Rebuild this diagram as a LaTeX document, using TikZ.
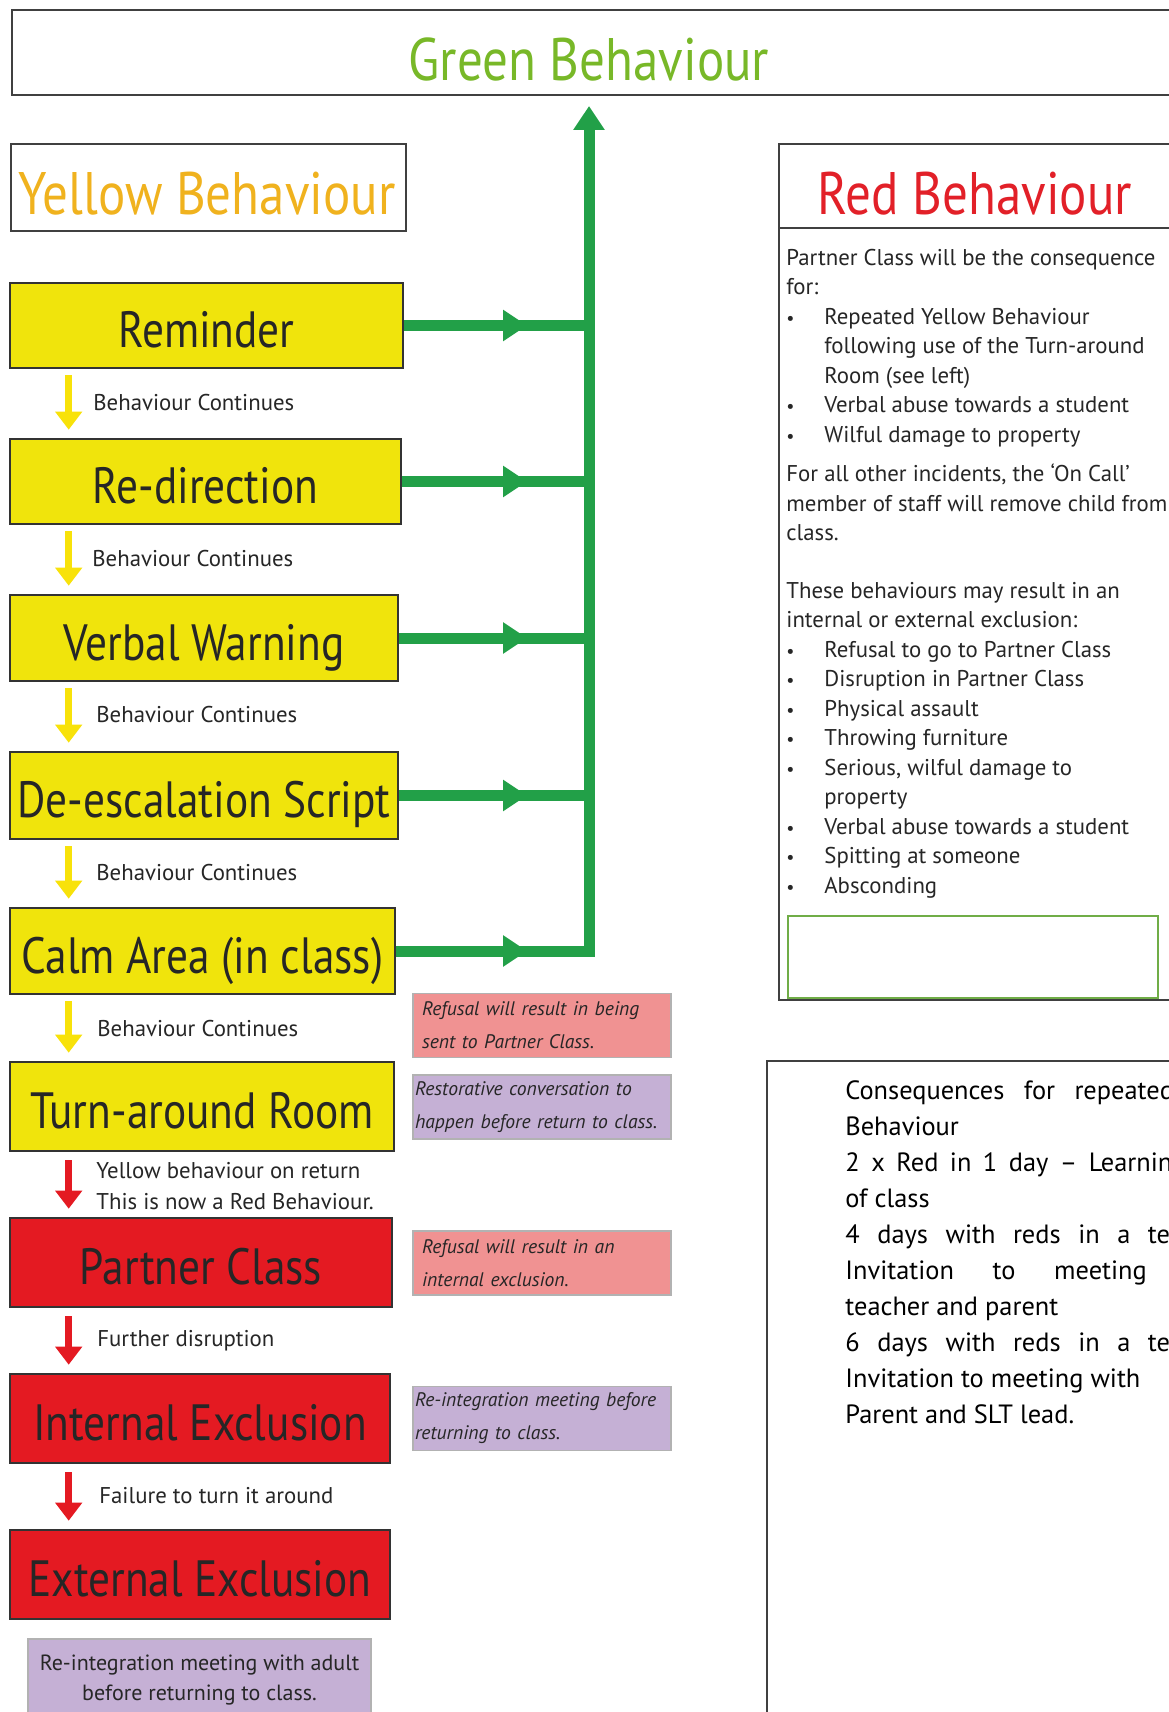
\documentclass[tikz,border=0pt]{standalone}
\usepackage{fontspec}
\setmainfont{PT Sans}
\newfontfamily\headfont[FakeStretch=0.85]{PT Sans}
\usetikzlibrary{arrows.meta,decorations.markings}

\definecolor{boxyellow}{RGB}{240,228,12}
\definecolor{boxred}{RGB}{228,26,34}
\definecolor{linegreen}{RGB}{34,160,72}
\definecolor{titlegreen}{RGB}{120,184,40}
\definecolor{titleyellow}{RGB}{240,178,30}
\definecolor{titlered}{RGB}{226,32,40}
\definecolor{notepink}{RGB}{240,146,146}
\definecolor{notepurple}{RGB}{197,176,213}
\definecolor{framegreen}{RGB}{112,173,71}
\definecolor{arrowyellow}{RGB}{248,226,10}

\newcommand\itemdot{\makebox[19pt][l]{\small\textbullet}}
\newcommand\itemgap{\hspace*{19pt}}

\tikzset{
  stagebox/.style={draw=black!80, line width=1.3pt, fill=boxyellow, text=black!85,
    font=\headfont\fontsize{25.5}{28}\selectfont, text height=22pt, text depth=0pt, inner sep=0pt},
  redstage/.style={stagebox, fill=boxred},
  headtext/.style={font=\headfont\fontsize{30}{32}\selectfont, inner sep=0pt},
  framebox/.style={draw=black!75, line width=1pt, inner sep=0pt},
  stepnote/.style={font=\fontsize{11.4}{15.5}\selectfont, text=black!85, anchor=west, align=left, inner sep=0pt},
  sidenote/.style={draw=black!30, line width=0.8pt, minimum width=129pt, minimum height=32pt,
    font=\itshape\fontsize{9.8}{16.5}\selectfont, text=black!85, align=left, text width=127pt,
    inner xsep=1pt, inner ysep=0pt},
  pinknote/.style={sidenote, fill=notepink, text width=120pt, inner xsep=4.5pt},
  purplenote/.style={sidenote, fill=notepurple},
  greenline/.style={draw=linegreen, line width=5.5pt},
  midarrow/.style={postaction={decorate}, decoration={markings,
    mark=at position -31pt with {\arrow{Triangle[length=12pt,width=15pt]}}}},
  yellowdown/.style={draw=arrowyellow, line width=3.5pt, -{Triangle[length=9pt,width=13pt]}},
  reddown/.style={yellowdown, draw=boxred},
}

\begin{document}
\begin{tikzpicture}[x=0.5pt,y=-0.5pt]
\useasboundingbox (0,0) rectangle (1168,1712);
\fill[white] (0,0) rectangle (1168,1712);

% title bars
\node[framebox, anchor=north west, minimum width=585pt, minimum height=42.5pt] (greenbar) at (11,9) {};
\node[headtext, text=titlegreen] (greentitle) at (589,60) {Green Behaviour};
\node[framebox, anchor=north west, minimum width=197.5pt, minimum height=43.5pt] (yellowbar) at (10,143) {};
\node[headtext, text=titleyellow] (yellowtitle) at (207,194) {Yellow Behaviour};
\node[framebox, anchor=north west, minimum width=201pt, minimum height=428pt] (redpanel) at (778,143) {};
\draw[black!75, line width=1pt] (redpanel.north west) ++(0,85) coordinate (redsep) -- (redsep -| redpanel.east);
\node[headtext, text=titlered] (redtitle) at (975,194) {Red Behaviour};

% yellow and red stages
\node[stagebox, minimum width=196.5pt, minimum height=42.5pt] (remind) at (206.5,325.5) {Reminder};
\node[stagebox, minimum width=195.5pt, minimum height=42.5pt] (redirect) at (205.5,481.5) {Re-direction};
\node[stagebox, minimum width=194pt, minimum height=43pt] (verbal) at (204,638) {Verbal Warning};
\node[stagebox, minimum width=194pt, minimum height=43.5pt] (deesc) at (204,795.5) {De-escalation Script};
\node[stagebox, minimum width=192.5pt, minimum height=43pt] (calm) at (202.5,951) {Calm Area (in class)};
\node[stagebox, minimum width=192pt, minimum height=44.5pt] (turn) at (202,1106.5) {Turn-around Room};
\node[redstage, minimum width=191pt, minimum height=44.5pt] (partner) at (201,1262.5) {Partner Class};
\node[redstage, minimum width=190pt, minimum height=44.5pt] (internal) at (200,1418.5) {Internal Exclusion};
\node[redstage, minimum width=190pt, minimum height=44.5pt] (external) at (200,1574.5) {External Exclusion};

% green way back
\coordinate (spine1) at (589,325.5);
\coordinate (spine2) at (589,481.5);
\coordinate (spine3) at (589,638);
\coordinate (spine4) at (589,795.5);
\coordinate (spine5) at (589,951);
\coordinate (spinetop) at (589,106);
\draw[greenline, midarrow] (remind.east) -- (spine1);
\draw[greenline, midarrow] (redirect.east) -- (spine2);
\draw[greenline, midarrow] (verbal.east) -- (spine3);
\draw[greenline, midarrow] (deesc.east) -- (spine4);
\draw[greenline, midarrow] (calm.east) -- (spine5);
\draw[greenline, line cap=rect, -{Triangle[length=12pt,width=15pt]}] (spine5) -- (spinetop);

% steps down
\draw[yellowdown] ([xshift=30pt,yshift=-3pt]remind.south west) -- ([xshift=30pt,yshift=4pt]redirect.north west);
\draw[yellowdown] ([xshift=30pt,yshift=-3pt]redirect.south west) -- ([xshift=30pt,yshift=4pt]verbal.north west);
\draw[yellowdown] ([xshift=30pt,yshift=-3pt]verbal.south west) -- ([xshift=30pt,yshift=4pt]deesc.north west);
\draw[yellowdown] ([xshift=30pt,yshift=-3pt]deesc.south west) -- ([xshift=30pt,yshift=4pt]calm.north west);
\draw[yellowdown] ([xshift=30pt,yshift=-3pt]calm.south west) -- ([xshift=30pt,yshift=4pt]turn.north west);
\draw[reddown] ([xshift=30pt,yshift=-4pt]turn.south west) -- ([xshift=30pt,yshift=4pt]partner.north west);
\draw[reddown] ([xshift=30pt,yshift=-4pt]partner.south west) -- ([xshift=30pt,yshift=4pt]internal.north west);
\draw[reddown] ([xshift=30pt,yshift=-4pt]internal.south west) -- ([xshift=30pt,yshift=4pt]external.north west);

\node[stepnote] (cont1) at (93,403) {Behaviour Continues};
\node[stepnote] (cont2) at (92,559) {Behaviour Continues};
\node[stepnote] (cont3) at (96,715) {Behaviour Continues};
\node[stepnote] (cont4) at (96,873) {Behaviour Continues};
\node[stepnote] (cont5) at (97,1029) {Behaviour Continues};
\node[stepnote] (onreturn) at (96,1186) {Yellow behaviour on return\\This is now a Red Behaviour.};
\node[stepnote] (further) at (97,1341) {Further disruption};
\node[stepnote] (failure) at (99,1496) {Failure to turn it around};

% side notes
\node[pinknote] (refusal1) at (542,1025.5) {Refusal will result in being\\sent to Partner Class.};
\node[purplenote] (restore) at (542,1107) {Restorative conversation to\\happen before return to class.};
\node[pinknote] (refusal2) at (542,1263) {Refusal will result in an\\internal exclusion.};
\node[purplenote] (reint1) at (542,1418.5) {Re-integration meeting before\\returning to class.};
\node[draw=black!30, line width=0.8pt, fill=notepurple, anchor=north, minimum width=171.5pt,
  minimum height=41pt, align=center, font=\fontsize{11}{14.75}\selectfont, text=black!85]
  (reint2) at (199.5,1638) {Re-integration meeting with adult\\before returning to class.};

% red behaviour panel
\node[anchor=north west, align=left, inner sep=0pt, text=black!85, font=\fontsize{11.4}{14.75}\selectfont]
  (redtext) at (786,248.5) {Partner Class will be the consequence\\
for:\\
\itemdot Repeated Yellow Behaviour\\
\itemgap following use of the Turn-around\\
\itemgap Room (see left)\\
\itemdot Verbal abuse towards a student\\
\itemdot Wilful damage to property\\[5pt]
For all other incidents, the ‘On Call’\\
member of staff will remove child from\\
class.\\[14pt]
These behaviours may result in an\\
internal or external exclusion:\\
\itemdot Refusal to go to Partner Class\\
\itemdot Disruption in Partner Class\\
\itemdot Physical assault\\
\itemdot Throwing furniture\\
\itemdot Serious, wilful damage to\\
\itemgap property\\
\itemdot Verbal abuse towards a student\\
\itemdot Spitting at someone\\
\itemdot Absconding};
\node[draw=framegreen, line width=1.2pt, anchor=north west, minimum width=185pt, minimum height=41pt] (oncallbox) at (787,915) {};

% consequences
\node[framebox, line width=0.8pt, anchor=north west, minimum width=207pt, minimum height=330pt] (conbox) at (766,1060) {};
\node[anchor=north west, align=left, inner sep=0pt, font=\fontsize{13.2}{18}\selectfont]
  (context) at (845,1080) {\makebox[195pt][s]{Consequences for repeated Red}\\
Behaviour\\
\makebox[195pt][s]{2 x Red in 1 day – Learning out}\\
of class\\
\makebox[195pt][s]{4 days with reds in a term –}\\
\makebox[195pt][s]{Invitation to meeting with}\\
teacher and parent\\
\makebox[195pt][s]{6 days with reds in a term –}\\
Invitation to meeting with\\
Parent and SLT lead.};
\end{tikzpicture}
\end{document}
